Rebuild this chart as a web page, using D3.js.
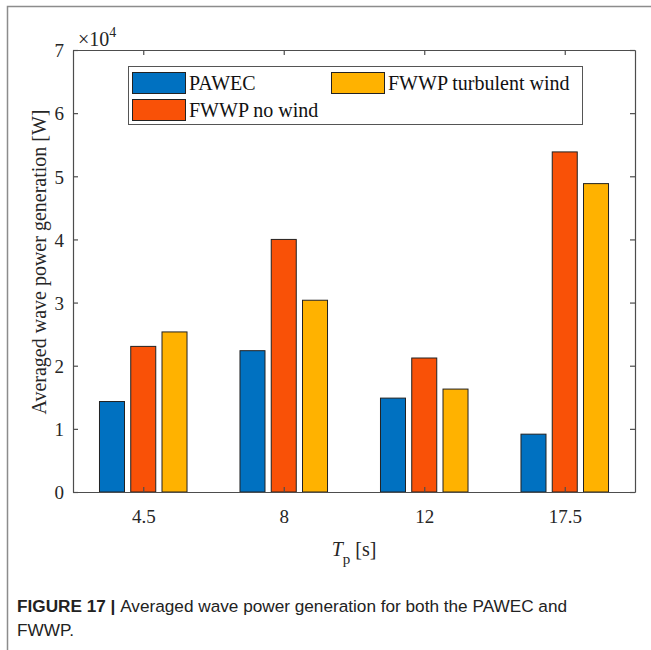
<!DOCTYPE html>
<html>
<head>
<meta charset="utf-8">
<script src="https://cdn.jsdelivr.net/npm/d3@7"></script>
<style>
  html, body { margin: 0; padding: 0; background: #fff; }
  svg { display: block; }
</style>
</head>
<body>
<svg id="chart" width="651" height="650"></svg>
<script>
// Wave period categories (s)
const categories = ["4.5", "8", "12", "17.5"];
// Averaged wave power generation [W]
const pawec      = [14330, 22380, 14870, 9160];
const fwwpNoWind = [23060, 40000, 21220, 53860];
const fwwpTurb   = [25350, 30370, 16300, 48840];
const seriesNames = ["PAWEC", "FWWP no wind", "FWWP turbulent wind"];
const seriesColors = ["#0071C1", "#F95107", "#FFB200"];
const yTicks = [0, 1, 2, 3, 4, 5, 6, 7];

const series = [pawec, fwwpNoWind, fwwpTurb];

const svg = d3.select("#chart");
const plotLeft = 73, plotRight = 635, plotTop = 50, plotBottom = 492;

// Figure frame
svg.append("rect")
  .attr("x", 7.5).attr("y", 6.5).attr("width", 700).attr("height", 700)
  .attr("fill", "none").attr("stroke", "#8c8c8c").attr("stroke-width", 1.5);

const x = d3.scaleLinear().domain([0.5, categories.length + 0.5]).range([plotLeft, plotRight]);
const y = d3.scaleLinear().domain([0, 7e4]).range([plotBottom, plotTop]);

const serif = "'Liberation Serif', 'Times New Roman', serif";
const axisColor = "#4d4d4d";

// Bars
const offset = 0.2225, barW = 0.178;
series.forEach((vals, s) => {
  svg.append("g").selectAll("rect").data(vals).join("rect")
    .attr("x", (d, i) => x(i + 1 + (s - 1) * offset - barW / 2))
    .attr("width", x(barW) - x(0))
    .attr("y", d => y(d))
    .attr("height", d => y(0) - y(d))
    .attr("fill", seriesColors[s])
    .attr("stroke", "#222")
    .attr("stroke-width", 1);
});

// Axes (boxed)
const catTicks = categories.map((c, i) => i + 1);
const xAxis = d3.axisBottom(x).tickValues(catTicks).tickFormat((d, i) => categories[i])
  .tickSizeInner(-5).tickSizeOuter(0).tickPadding(18);
const gx = svg.append("g").attr("transform", `translate(0,${plotBottom})`).call(xAxis);

const yAxis = d3.axisLeft(y).tickValues(yTicks.map(t => t * 1e4)).tickFormat(d => d / 1e4)
  .tickSizeInner(-5).tickSizeOuter(0).tickPadding(9);
const gy = svg.append("g").attr("transform", `translate(${plotLeft},0)`).call(yAxis);

const gxTop = svg.append("g").attr("transform", `translate(0,${plotTop})`)
  .call(d3.axisTop(x).tickValues(catTicks).tickFormat("").tickSizeInner(-5).tickSizeOuter(0));
const gyRight = svg.append("g").attr("transform", `translate(${plotRight},0)`)
  .call(d3.axisRight(y).tickValues(yTicks.map(t => t * 1e4)).tickFormat("").tickSizeInner(-5).tickSizeOuter(0));

[gx, gy, gxTop, gyRight].forEach(g => {
  g.select(".domain").attr("stroke", axisColor).attr("stroke-width", 1.2);
  g.selectAll(".tick line").attr("stroke", axisColor).attr("stroke-width", 1.2);
  g.selectAll(".tick text").attr("fill", "#262626")
    .style("font-family", serif).style("font-size", "19px");
});
gy.selectAll(".tick text").attr("dy", "0.36em");

// Exponent marker
const exp = svg.append("text").attr("x", 78).attr("y", 46)
  .style("font-family", serif).style("font-size", "20px").attr("fill", "#262626");
exp.append("tspan").text("×10");
exp.append("tspan").attr("dy", -9).style("font-size", "14px").text("4");

// Axis titles
svg.append("text")
  .attr("transform", `translate(46,${(plotTop + plotBottom) / 2 - 9}) rotate(-90)`)
  .attr("text-anchor", "middle")
  .style("font-family", serif).style("font-size", "20px").attr("fill", "#262626")
  .text("Averaged wave power generation [W]");

const xl = svg.append("text").attr("x", (plotLeft + plotRight) / 2).attr("y", 556)
  .attr("text-anchor", "middle")
  .style("font-family", serif).style("font-size", "20px").attr("fill", "#262626");
xl.append("tspan").style("font-style", "italic").text("T");
xl.append("tspan").attr("dy", 8).style("font-size", "15px").text("p");
xl.append("tspan").attr("dy", -8).text(" [s]");

// Legend
const lg = svg.append("g");
lg.append("rect").attr("x", 128.5).attr("y", 66.5).attr("width", 454).attr("height", 58)
  .attr("fill", "#fff").attr("stroke", "#555").attr("stroke-width", 1);
const legendPos = [[132, 72], [132, 99], [331, 72]];
seriesNames.forEach((name, i) => {
  const [lx, ly] = legendPos[i];
  lg.append("rect").attr("x", lx + 0.5).attr("y", ly + 0.5).attr("width", 53).attr("height", 21)
    .attr("fill", seriesColors[i]).attr("stroke", "#222").attr("stroke-width", 1);
  lg.append("text").attr("x", lx + 57).attr("y", ly + 18)
    .style("font-family", serif).style("font-size", "20px").attr("fill", "#111")
    .text(name);
});

// Caption
const capFont = "'Liberation Sans', Arial, sans-serif";
const cap = svg.append("text").attr("x", 17).attr("y", 612)
  .style("font-family", capFont).style("font-size", "17.2px").attr("fill", "#222");
cap.append("tspan").style("font-weight", "bold").text("FIGURE 17 | ");
cap.append("tspan").text("Averaged wave power generation for both the PAWEC and");
svg.append("text").attr("x", 17).attr("y", 636)
  .style("font-family", capFont).style("font-size", "17.2px")
  .attr("fill", "#222").text("FWWP.");
</script>
</body>
</html>
